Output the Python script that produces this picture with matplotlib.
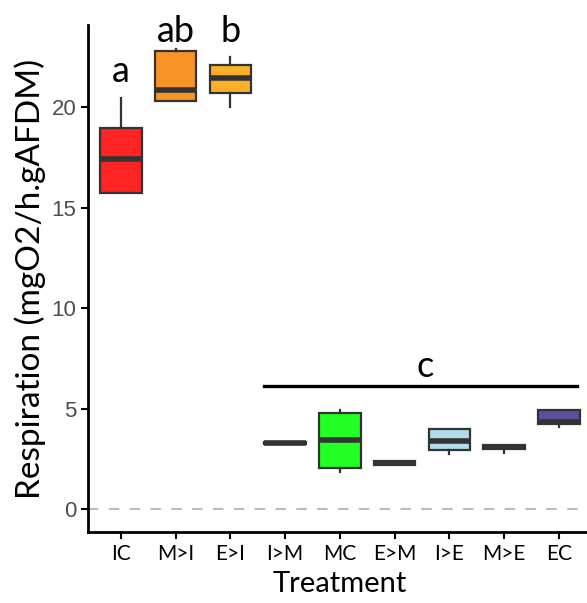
"""
Respiration per treatment, boxplots with significance letters.
"""
from matplotlib import pyplot as plt

treatments = ['IC', 'M>I', 'E>I', 'I>M', 'MC', 'E>M', 'I>E', 'M>E', 'EC']
whislo = [15.73, 20.30, 20.00, 3.23, 1.82, 2.20, 2.76, 2.81, 4.08]
q1 = [15.73, 20.30, 20.70, 3.23, 2.02, 2.20, 2.96, 3.00, 4.25]
med = [17.42, 20.84, 21.44, 3.28, 3.42, 2.30, 3.39, 3.10, 4.33]
q3 = [18.96, 22.80, 22.13, 3.33, 4.80, 2.40, 3.98, 3.17, 4.93]
whishi = [20.45, 22.93, 22.53, 3.35, 4.93, 2.40, 3.98, 3.17, 4.95]
fills = ['#FF2424', '#F89325', '#FCAF27', '#9E9E9E', '#22FF22',
         '#9E9E9E', '#B0DDE8', '#9E9E9E', '#5D4EA0']

letters = ['a', 'ab', 'b']
letter_y = [21.24, 23.23, 23.23]
group_c = 'c'

calibri_like = 'Lato'

fig = plt.figure(figsize=(5.87, 6.03), dpi=100)
ax = fig.add_axes([0.150, 0.1177, 0.858, 0.8408])

stats = []
for i, t in enumerate(treatments):
    stats.append(dict(label=t, whislo=whislo[i], q1=q1[i], med=med[i],
                      q3=q3[i], whishi=whishi[i], fliers=[]))

bp = ax.bxp(stats, positions=range(len(treatments)), widths=0.76,
            patch_artist=True, showcaps=False,
            boxprops=dict(edgecolor='#333333', linewidth=1.6),
            medianprops=dict(color='#333333', linewidth=4, solid_capstyle='butt'),
            whiskerprops=dict(color='#333333', linewidth=1.6))
for patch, c in zip(bp['boxes'], fills):
    patch.set_facecolor(c)

# zero reference
ax.axhline(0, color='#BBBBBB', linestyle=(0, (5, 5)), linewidth=1.5, zorder=0)

# significance letters
for i, (lab, y) in enumerate(zip(letters, letter_y)):
    ax.text(i, y, lab, ha='center', va='baseline', fontsize=26,
            family=calibri_like)
ax.plot([2.62, 8.33], [6.12, 6.12], color='black', linewidth=2.4)
ax.text(5.55, 6.55, group_c, ha='center', va='baseline', fontsize=26,
        family=calibri_like)

ax.set_xlim(-0.6, 8.6)
ax.set_ylim(-1.15, 24.1)
ax.set_yticks([0, 5, 10, 15, 20])
ax.set_xticks(range(len(treatments)))
ax.set_xticklabels(treatments, family=calibri_like, fontsize=15, color='black')
ax.tick_params(axis='y', labelsize=16, labelcolor='#4D4D4D', length=5, width=1.5)
ax.tick_params(axis='x', length=5, width=1.5)
for lab in ax.get_yticklabels():
    lab.set_family('Liberation Sans')

for s in ['top', 'right']:
    ax.spines[s].set_visible(False)
for s in ['left', 'bottom']:
    ax.spines[s].set_linewidth(2)

ax.set_xlabel('Treatment', family=calibri_like, fontsize=21, labelpad=5)
ax.set_ylabel('Respiration (mgO2/h.gAFDM)', family=calibri_like, fontsize=24,
              labelpad=4)

fig.savefig('out.png', dpi=100)
